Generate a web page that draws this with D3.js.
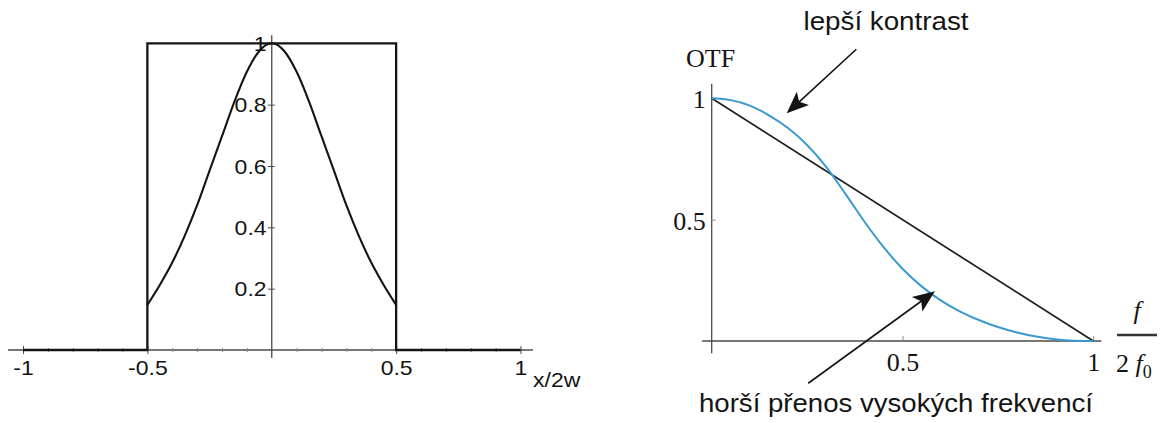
<!DOCTYPE html>
<html>
<head>
<meta charset="utf-8">
<script src="https://cdn.jsdelivr.net/npm/d3@7"></script>
<style>
  html, body { margin: 0; padding: 0; background: #fff; }
  svg { display: block; }
</style>
</head>
<body>
<svg id="chart" width="1162" height="423"></svg>
<script>
// ---- Left panel: clear aperture (rectangle) and apodised amplitude profile ----
const apertureX = [-1, -0.5, -0.5, 0.5, 0.5, 1];
const apertureY = [0, 0, 1, 1, 0, 0];
const profileX = [-0.5, -0.45, -0.4, -0.35, -0.3, -0.25, -0.2, -0.15, -0.1, -0.05, 0,
                  0.05, 0.1, 0.15, 0.2, 0.25, 0.3, 0.35, 0.4, 0.45, 0.5];
const profileY = [0.147, 0.212, 0.285, 0.372, 0.472, 0.585, 0.697, 0.81, 0.907, 0.975, 1,
                  0.975, 0.907, 0.81, 0.697, 0.585, 0.472, 0.372, 0.285, 0.212, 0.147];
const leftXTicks = [-1, -0.5, 0.5, 1];
const leftXTickLabels = ["-1", "-0.5", "0.5", "1"];
const leftMinorTicks = [-0.9, -0.8, -0.7, -0.6, -0.4, -0.3, -0.2, -0.1, 0.1, 0.2, 0.3, 0.4, 0.6, 0.7, 0.8, 0.9];
const leftYTicks = [0.2, 0.4, 0.6, 0.8, 1];
const leftYTickLabels = ["0.2", "0.4", "0.6", "0.8", "1"];

// ---- Right panel: optical transfer functions ----
const otfF = [0, 0.05, 0.1, 0.15, 0.2, 0.25, 0.3, 0.35, 0.4, 0.45, 0.5,
              0.55, 0.6, 0.65, 0.7, 0.75, 0.8, 0.85, 0.9, 0.95, 1];
const otfApodised = [1, 0.9925, 0.97, 0.93, 0.8775, 0.8075, 0.7175, 0.6075, 0.4925, 0.3875, 0.2975,
                     0.225, 0.1675, 0.1225, 0.0865, 0.0575, 0.035, 0.0185, 0.0075, 0.0015, 0];
const otfClearF = [0, 1];
const otfClear = [1, 0];
const rightXTicks = [0.5, 1];
const rightXTickLabels = ["0.5", "1"];
const rightYTicks = [0.5, 1];
const rightYTickLabels = ["0.5", "1"];

// Annotations (arrow tip and tail in OTF coordinates)
const noteTexts = ["lepší kontrast", "horší přenos vysokých frekvencí"];
const noteTipF = [0.1965, 0.585];
const noteTipV = [0.938, 0.205];
const noteTailF = [0.379, 0.253];
const noteTailV = [1.202, -0.174];

const svg = d3.select("#chart");
svg.append("rect").attr("width", 1162).attr("height", 423).attr("fill", "#fff");

const ink = "#141414";
const axisInk = "#4a4a4a";
const sans = "'Liberation Sans', Arial, Helvetica, sans-serif";
const serif = "'Liberation Serif', 'Times New Roman', serif";

// ================= Left panel =================
const xL = d3.scaleLinear().domain([-1, 1]).range([23, 520.5]);
const yL = d3.scaleLinear().domain([0, 1]).range([350, 43.3]);
const stretch = "scale(1.15,1)";

const left = svg.append("g");

// axis lines
left.append("line")
  .attr("x1", xL(-1.06)).attr("x2", xL(1.05))
  .attr("y1", yL(0)).attr("y2", yL(0))
  .attr("stroke", axisInk).attr("stroke-width", 1.3);
left.append("line")
  .attr("x1", xL(0)).attr("x2", xL(0))
  .attr("y1", yL(-0.026)).attr("y2", yL(1.026))
  .attr("stroke", axisInk).attr("stroke-width", 1.3);

// minor ticks
const gxMinor = left.append("g")
  .attr("transform", `translate(0,${yL(0)})`)
  .call(d3.axisBottom(xL).tickValues(leftMinorTicks).tickSize(2).tickFormat(""));
gxMinor.select(".domain").remove();
gxMinor.selectAll(".tick line").attr("y1", -2).attr("y2", 2).attr("stroke", "#888").attr("stroke-width", 1);

// major x ticks
const gxL = left.append("g")
  .attr("transform", `translate(0,${yL(0)})`)
  .call(d3.axisBottom(xL).tickValues(leftXTicks).tickFormat((d, i) => leftXTickLabels[i]).tickSizeOuter(0))
  .attr("font-family", sans).attr("font-size", 20);
gxL.select(".domain").remove();
gxL.selectAll(".tick line").attr("y1", -4).attr("y2", 4).attr("stroke", axisInk);
gxL.selectAll(".tick text")
  .attr("y", 25).attr("dy", null)
  .attr("fill", ink).attr("transform", stretch);

left.append("text")
  .attr("transform", `translate(${xL(1) + 12.5},${yL(0) + 37}) ${stretch}`)
  .attr("font-family", sans).attr("font-size", 20).attr("fill", ink)
  .text("x/2w");

// y ticks
const gyL = left.append("g")
  .attr("transform", `translate(${xL(0)},0)`)
  .call(d3.axisLeft(yL).tickValues(leftYTicks).tickFormat((d, i) => leftYTickLabels[i]).tickSizeOuter(0))
  .attr("font-family", sans).attr("font-size", 20);
gyL.select(".domain").remove();
gyL.selectAll(".tick line").attr("x1", -4).attr("x2", 3).attr("stroke", axisInk);
gyL.selectAll(".tick text")
  .attr("x", -4.5).attr("dy", "0.36em")
  .attr("fill", ink).attr("transform", stretch);

// curves
const lineL = d3.line().x(d => xL(d[0])).y(d => yL(d[1]));
left.append("path")
  .datum(apertureX.map((x, i) => [x, apertureY[i]]))
  .attr("d", lineL)
  .attr("fill", "none").attr("stroke", ink).attr("stroke-width", 2.3)
  .attr("stroke-linejoin", "miter");
left.append("path")
  .datum(profileX.map((x, i) => [x, profileY[i]]))
  .attr("d", d3.line().x(d => xL(d[0])).y(d => yL(d[1])).curve(d3.curveMonotoneX))
  .attr("fill", "none").attr("stroke", ink).attr("stroke-width", 2.1);

// ================= Right panel =================
const xR = d3.scaleLinear().domain([0, 1]).range([711.7, 1093.3]);
const yR = d3.scaleLinear().domain([0, 1]).range([341, 98.3]);

const right = svg.append("g");

right.append("line")
  .attr("x1", xR(-0.025)).attr("x2", xR(1.021))
  .attr("y1", yR(0)).attr("y2", yR(0))
  .attr("stroke", axisInk).attr("stroke-width", 1.3);
right.append("line")
  .attr("x1", xR(0)).attr("x2", xR(0))
  .attr("y1", yR(-0.05)).attr("y2", yR(1.06))
  .attr("stroke", axisInk).attr("stroke-width", 1.3);

const gxR = right.append("g")
  .attr("transform", `translate(0,${yR(0)})`)
  .call(d3.axisBottom(xR).tickValues(rightXTicks).tickFormat((d, i) => rightXTickLabels[i]).tickSizeOuter(0))
  .attr("font-family", serif).attr("font-size", 26);
gxR.select(".domain").remove();
gxR.selectAll(".tick line").attr("y1", 0).attr("y2", -5).attr("stroke", "#888");
gxR.selectAll(".tick text").attr("y", 30).attr("dy", null).attr("fill", ink);

const gyR = right.append("g")
  .attr("transform", `translate(${xR(0)},0)`)
  .call(d3.axisLeft(yR).tickValues(rightYTicks).tickFormat((d, i) => rightYTickLabels[i]).tickSizeOuter(0))
  .attr("font-family", serif).attr("font-size", 26);
gyR.select(".domain").remove();
gyR.selectAll(".tick line").attr("x1", 0).attr("x2", 4).attr("stroke", "#888");
gyR.selectAll(".tick text").attr("x", -6).attr("dy", "0.36em").attr("fill", ink);

// axis titles
right.append("text")
  .attr("x", 686).attr("y", 67)
  .attr("font-family", serif).attr("font-size", 26).attr("fill", ink)
  .text("OTF");

const frac = right.append("g").attr("font-family", serif).attr("fill", ink);
frac.append("text")
  .attr("x", 1137).attr("y", 319).attr("text-anchor", "middle")
  .attr("font-size", 26).attr("font-style", "italic")
  .text("f");
frac.append("line")
  .attr("x1", 1117).attr("x2", 1157).attr("y1", 335).attr("y2", 335)
  .attr("stroke", "#333").attr("stroke-width", 2.5);
const den = frac.append("text").attr("x", 1116).attr("y", 372).attr("font-size", 26);
den.append("tspan").text("2 ");
den.append("tspan").attr("font-style", "italic").text("f");
den.append("tspan").attr("font-size", 18).attr("dy", 6).text("0");

// curves
const lineR = d3.line().x(d => xR(d[0])).y(d => yR(d[1]));
right.append("path")
  .datum(otfClearF.map((f, i) => [f, otfClear[i]]))
  .attr("d", lineR)
  .attr("fill", "none").attr("stroke", "#1e1e1e").attr("stroke-width", 1.7);
right.append("path")
  .datum(otfF.map((f, i) => [f, otfApodised[i]]))
  .attr("d", d3.line().x(d => xR(d[0])).y(d => yR(d[1])).curve(d3.curveMonotoneX))
  .attr("fill", "none").attr("stroke", "#3a9ad0").attr("stroke-width", 2);

// annotation arrows
function arrow(g, tx, ty, sx, sy) {
  const dx = sx - tx, dy = sy - ty, len = Math.hypot(dx, dy);
  const ux = dx / len, uy = dy / len, px = -uy, py = ux;
  const L = 22, W = 9, N = 17;
  g.append("line")
    .attr("x1", sx).attr("y1", sy)
    .attr("x2", tx + ux * N).attr("y2", ty + uy * N)
    .attr("stroke", ink).attr("stroke-width", 1.6);
  g.append("path")
    .attr("d", `M${tx},${ty}L${tx + ux * L + px * W},${ty + uy * L + py * W}` +
               `L${tx + ux * N},${ty + uy * N}L${tx + ux * L - px * W},${ty + uy * L - py * W}Z`)
    .attr("fill", ink);
}
noteTexts.forEach((t, i) => {
  arrow(right, xR(noteTipF[i]), yR(noteTipV[i]), xR(noteTailF[i]), yR(noteTailV[i]));
});

right.append("text")
  .attr("x", 886).attr("y", 30).attr("text-anchor", "middle")
  .attr("font-family", sans).attr("font-size", 26).attr("fill", ink)
  .attr("textLength", 165).attr("lengthAdjust", "spacingAndGlyphs")
  .text(noteTexts[0]);
right.append("text")
  .attr("x", 896).attr("y", 412).attr("text-anchor", "middle")
  .attr("font-family", sans).attr("font-size", 26).attr("fill", ink)
  .attr("textLength", 394).attr("lengthAdjust", "spacingAndGlyphs")
  .text(noteTexts[1]);
</script>
</body>
</html>
